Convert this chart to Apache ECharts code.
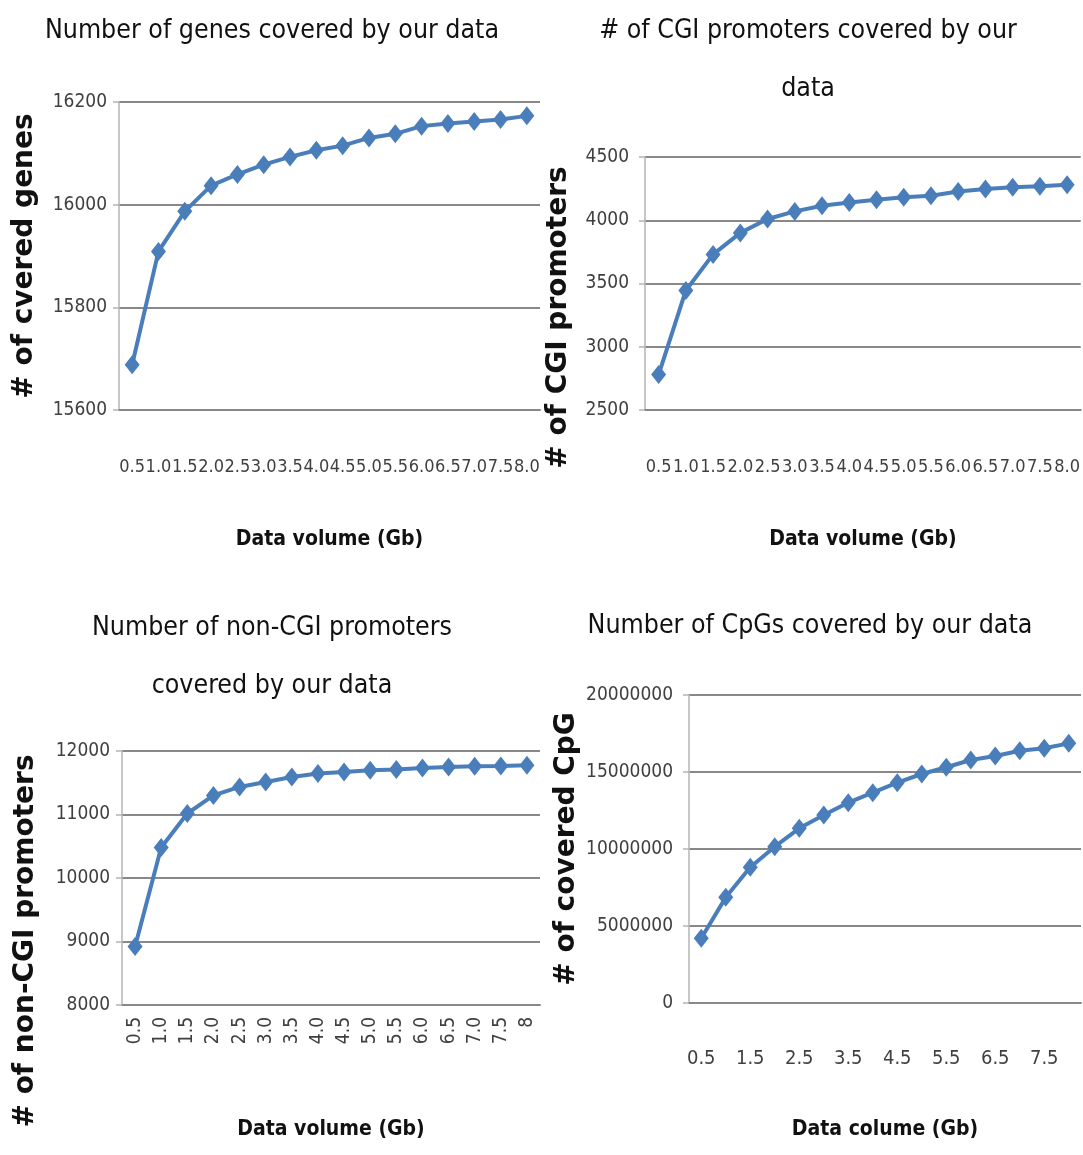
<!DOCTYPE html>
<html>
<head>
<meta charset="utf-8">
<script src="https://cdn.jsdelivr.net/npm/echarts@6/dist/echarts.min.js"></script>
<style>
html,body{margin:0;padding:0;background:#fff;}
#chart{width:1083px;height:1155px;}
</style>
</head>
<body>
<div id="chart"></div>
<script>
// ---- data ----
const volumeLabels = ['0.5','1.0','1.5','2.0','2.5','3.0','3.5','4.0','4.5','5.0','5.5','6.0','6.5','7.0','7.5','8.0'];
const volumeLabelsNonCgi = ['0.5','1.0','1.5','2.0','2.5','3.0','3.5','4.0','4.5','5.0','5.5','6.0','6.5','7.0','7.5','8'];
const volumeLabelsCpg = ['0.5','1','1.5','2','2.5','3','3.5','4','4.5','5','5.5','6','6.5','7','7.5','8'];

const genesCovered = [15688,15909,15987,16037,16059,16078,16093,16106,16115,16130,16138,16153,16158,16162,16166,16173];
const cgiPromoters = [2780,3445,3730,3900,4010,4070,4115,4141,4162,4181,4194,4228,4247,4260,4268,4281];
const nonCgiPromoters = [8920,10480,11016,11300,11434,11513,11590,11644,11670,11697,11707,11733,11748,11760,11764,11775];
const cpgsCovered = [4200000,6860000,8810000,10150000,11340000,12210000,13010000,13660000,14310000,14870000,15310000,15780000,16040000,16380000,16540000,16860000];

const titles = [
  'Number of genes covered by our data',
  '# of CGI promoters covered by our\ndata',
  'Number of non-CGI promoters\ncovered by our data',
  'Number of CpGs covered by our data'
];
const yNames = ['# of cvered genes', '# of CGI promoters', '# of non-CGI promoters', '# of covered CpG'];
const xNames = ['Data volume (Gb)', 'Data volume (Gb)', 'Data volume (Gb)', 'Data colume (Gb)'];

// ---- styling ----
const NARROW = "'Liberation Sans Narrow','DejaVu Sans Condensed','Open Sans',sans-serif";
const WIDE = "'DejaVu Sans','Verdana',sans-serif";
const LINE = '#4a7ebb';
const GRIDC = '#888888';
const AXC = '#b4b4b4';

const grids = [
  {left: 119, top: 102, width: 421, height: 308},
  {left: 645, top: 157, width: 436, height: 253},
  {left: 122, top: 751, width: 418, height: 254},
  {left: 689, top: 695, width: 392, height: 308}
];
const yRanges = [
  {min: 15600, max: 16200, interval: 200},
  {min: 2500, max: 4500, interval: 500},
  {min: 8000, max: 12000, interval: 1000},
  {min: 0, max: 20000000, interval: 5000000}
];
const yLabelMargin = [12, 16, 12, 16];
const yNameGap = [80, 72, 82, 108];
const yNamePad = [[0,0,0,0],[0,68,0,0],[0,126,0,0],[0,0,0,0]];
const xCats = [volumeLabels, volumeLabels, volumeLabelsNonCgi, volumeLabelsCpg];
const xLabelSize = [18, 18, 19, 20];
const xLabelMargin = [48, 48, 12, 46];
const series = [genesCovered, cgiPromoters, nonCgiPromoters, cpgsCovered];
const titlePos = [
  {x: 272, top: 13, lh: 36},
  {x: 808, top: 2, lh: 58},
  {x: 272, top: 599, lh: 58},
  {x: 810, top: 608, lh: 36}
];
const xNameGap = [119, 119, 114, 116];

const option = {
  backgroundColor: '#ffffff',
  animation: false,
  title: titles.map((t, i) => ({
    text: t,
    left: titlePos[i].x,
    top: titlePos[i].top,
    textAlign: 'center',
    padding: 0,
    textStyle: {fontFamily: NARROW, fontSize: 26.5, fontWeight: 'normal', color: '#111', lineHeight: titlePos[i].lh}
  })),
  grid: grids,
  xAxis: xCats.map((cats, i) => ({
    type: 'category',
    gridIndex: i,
    data: cats,
    boundaryGap: true,
    name: xNames[i],
    nameLocation: 'middle',
    nameGap: xNameGap[i],
    nameTextStyle: {fontFamily: NARROW, fontSize: 21, fontWeight: 'bold', color: '#111'},
    axisLine: {show: true, lineStyle: {color: GRIDC, width: 2}},
    axisTick: {show: false},
    axisLabel: {
      interval: i === 3 ? 1 : 0,
      rotate: i === 2 ? 90 : 0,
      margin: xLabelMargin[i],
      hideOverlap: false,
      fontFamily: NARROW, fontSize: xLabelSize[i], color: '#404040'
    },
    splitLine: {show: false}
  })),
  yAxis: yRanges.map((r, i) => ({
    type: 'value',
    gridIndex: i,
    min: r.min, max: r.max, interval: r.interval,
    name: yNames[i],
    nameLocation: 'middle',
    nameRotate: 90,
    nameGap: yNameGap[i],
    nameTextStyle: {fontFamily: WIDE, fontSize: 28, fontWeight: 'bold', color: '#111', padding: yNamePad[i]},
    axisLine: {show: true, lineStyle: {color: AXC, width: 1.5}},
    axisTick: {show: true, length: 6, lineStyle: {color: AXC, width: 1.5}},
    axisLabel: {margin: yLabelMargin[i], fontFamily: NARROW, fontSize: 19, color: '#404040', formatter: v => String(v)},
    splitLine: {show: true, lineStyle: {color: GRIDC, width: 2}}
  })),
  series: series.map((d, i) => ({
    type: 'line',
    xAxisIndex: i,
    yAxisIndex: i,
    data: d,
    symbol: 'diamond',
    symbolSize: [15, 19],
    showAllSymbol: true,
    lineStyle: {color: LINE, width: 4},
    itemStyle: {color: LINE},
    z: 3
  }))
};

const chart = echarts.init(document.getElementById('chart'), null, {renderer: 'canvas'});
chart.setOption(option);
</script>
</body>
</html>
